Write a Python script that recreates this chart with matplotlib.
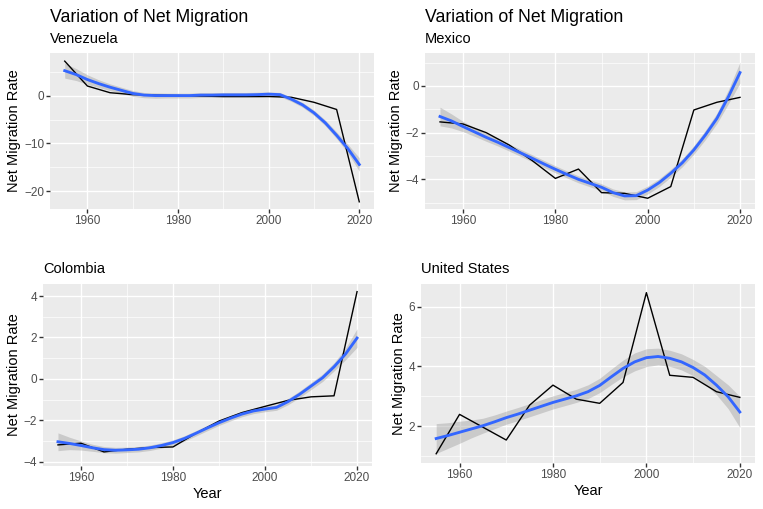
import numpy as np
import matplotlib
matplotlib.use("Agg")
import matplotlib.pyplot as plt
from matplotlib.ticker import MultipleLocator, AutoMinorLocator

plt.rcParams["font.family"] = ["Liberation Sans", "DejaVu Sans"]

# ──────────────────────────────────────────────────────────────────────────────
# Data: net migration rate (5-year steps)
# ──────────────────────────────────────────────────────────────────────────────

years = [1955, 1960, 1965, 1970, 1975, 1980, 1985, 1990, 1995, 2000, 2005, 2010, 2015, 2020]

venezuela = [7.2, 2.0, 0.6, 0.2, 0.1, 0.0, -0.1, -0.2, -0.2, -0.2, -0.35, -1.4, -2.9, -22.2]
mexico = [-1.54, -1.63, -2.0, -2.53, -3.2, -3.96, -3.56, -4.57, -4.6, -4.81, -4.31, -1.03, -0.7, -0.49]
colombia = [-3.19, -3.11, -3.53, -3.4, -3.32, -3.29, -2.63, -2.04, -1.63, -1.33, -1.04, -0.87, -0.82, 4.21]
united_states = [1.07, 2.39, 1.96, 1.53, 2.7, 3.37, 2.9, 2.76, 3.46, 6.47, 3.7, 3.63, 3.15, 2.96]

# Smoothed trend (loess) and half-width of its 95% band, read every 2.5 years
smooth_years = [1955, 1957.5, 1960, 1962.5, 1965, 1967.5, 1970, 1972.5, 1975, 1977.5,
                1980, 1982.5, 1985, 1987.5, 1990, 1992.5, 1995, 1997.5, 2000, 2002.5,
                2005, 2007.5, 2010, 2012.5, 2015, 2017.5, 2020]

venezuela_fit = [5.2, 4.4, 3.35, 2.5, 1.75, 1.1, 0.45, 0.1, 0.0, 0.0,
                 0.0, 0.0, 0.1, 0.1, 0.15, 0.15, 0.15, 0.2, 0.3, 0.2,
                 -0.75, -1.95, -3.6, -5.7, -8.3, -11.1, -14.4]
venezuela_se = [1.55, 1.25, 1.0, 0.8, 0.7, 0.65, 0.6, 0.55, 0.55, 0.5,
                0.5, 0.5, 0.5, 0.5, 0.5, 0.5, 0.5, 0.5, 0.45, 0.45,
                0.45, 0.5, 0.55, 0.6, 0.7, 0.9, 1.4]

mexico_fit = [-1.31, -1.5, -1.74, -1.97, -2.2, -2.41, -2.64, -2.87, -3.1, -3.34,
              -3.57, -3.79, -4.0, -4.17, -4.34, -4.57, -4.71, -4.7, -4.46, -4.14,
              -3.74, -3.29, -2.74, -2.1, -1.39, -0.46, 0.57]
mexico_se = [0.4, 0.3, 0.22, 0.19, 0.17, 0.16, 0.15, 0.15, 0.15, 0.15,
             0.15, 0.15, 0.15, 0.15, 0.15, 0.16, 0.17, 0.17, 0.17, 0.17,
             0.17, 0.17, 0.18, 0.2, 0.22, 0.3, 0.45]

colombia_fit = [-3.04, -3.12, -3.22, -3.33, -3.42, -3.45, -3.43, -3.4, -3.33, -3.22,
                -3.08, -2.88, -2.63, -2.37, -2.12, -1.9, -1.7, -1.55, -1.46, -1.38,
                -1.1, -0.75, -0.35, 0.05, 0.58, 1.2, 1.97]
colombia_se = [0.43, 0.3, 0.22, 0.17, 0.15, 0.14, 0.13, 0.13, 0.13, 0.13,
               0.13, 0.13, 0.13, 0.13, 0.13, 0.13, 0.13, 0.13, 0.13, 0.14,
               0.15, 0.16, 0.17, 0.18, 0.2, 0.28, 0.45]

united_states_fit = [1.58, 1.68, 1.79, 1.9, 2.01, 2.14, 2.28, 2.4, 2.53, 2.66,
                     2.79, 2.9, 3.01, 3.15, 3.36, 3.65, 3.93, 4.15, 4.29, 4.33,
                     4.27, 4.15, 3.96, 3.71, 3.37, 2.98, 2.47]
united_states_se = [0.5, 0.43, 0.37, 0.3, 0.25, 0.23, 0.22, 0.22, 0.22, 0.22,
                    0.22, 0.22, 0.22, 0.23, 0.24, 0.26, 0.28, 0.3, 0.3, 0.28,
                    0.27, 0.27, 0.27, 0.29, 0.32, 0.4, 0.52]

# country, values, fit, band, title, y tick step, y limits, panel box in px (l, t, r, b)
PANELS = [
    ("Venezuela", venezuela, venezuela_fit, venezuela_se,
     "Variation of Net Migration", 10, (-23.7, 8.9), (50, 53, 374, 209)),
    ("Mexico", mexico, mexico_fit, mexico_se,
     "Variation of Net Migration", 2, (-5.27, 1.41), (425, 53, 755, 209)),
    ("Colombia", colombia, colombia_fit, colombia_se,
     "", 2, (-4.21, 4.58), (43, 284, 372, 466)),
    ("United States", united_states, united_states_fit, united_states_se,
     "", 2, (0.76, 6.76), (421, 284, 755, 463)),
]

W, H = 763, 509
PANEL_BG = "#EBEBEB"
SMOOTH = "#3366FF"
BAND = "#999999"
TICK_TXT = "#4D4D4D"


def style_axis(ax, ystep, ylim):
    ax.set_facecolor(PANEL_BG)
    for s in ax.spines.values():
        s.set_visible(False)
    ax.set_xlim(1951.75, 2023.25)
    ax.set_ylim(*ylim)
    ax.xaxis.set_major_locator(MultipleLocator(20))
    ax.yaxis.set_major_locator(MultipleLocator(ystep))
    ax.xaxis.set_minor_locator(AutoMinorLocator(2))
    ax.yaxis.set_minor_locator(AutoMinorLocator(2))
    ax.grid(which="major", color="white", linewidth=1.0)
    ax.grid(which="minor", color="white", linewidth=0.5)
    ax.set_axisbelow(True)
    ax.tick_params(which="major", length=2.6, width=1.0, color="#333333",
                   labelsize=8.45, labelcolor=TICK_TXT, pad=1.6)
    ax.tick_params(which="minor", length=0)


fig = plt.figure(figsize=(W / 100, H / 100), dpi=100)

for i, (country, values, fit, se, title, ystep, ylim, (l, t, r, b)) in enumerate(PANELS):
    ax = fig.add_axes([l / W, 1 - b / H, (r - l) / W, (b - t) / H])
    fit = np.array(fit)
    se = np.array(se)
    ax.fill_between(smooth_years, fit - se, fit + se, color=BAND, alpha=0.4, linewidth=0)
    ax.plot(years, values, color="black", linewidth=1.0)
    ax.plot(smooth_years, fit, color=SMOOTH, linewidth=2.05)
    style_axis(ax, ystep, ylim)

    ax.set_ylabel("Net Migration Rate", fontsize=10.56, labelpad=2)
    if i >= 2:
        ax.set_xlabel("Year", fontsize=10.56, labelpad=2)

    if title:
        fig.text(l / W, 1 - 21.7 / H, title, fontsize=12.67, ha="left", va="baseline")
        fig.text(l / W, 1 - 43.3 / H, country, fontsize=10.56, ha="left", va="baseline")
    else:
        fig.text(l / W, 1 - 273.3 / H, country, fontsize=10.56, ha="left", va="baseline")

fig.savefig("out.png", dpi=100)
